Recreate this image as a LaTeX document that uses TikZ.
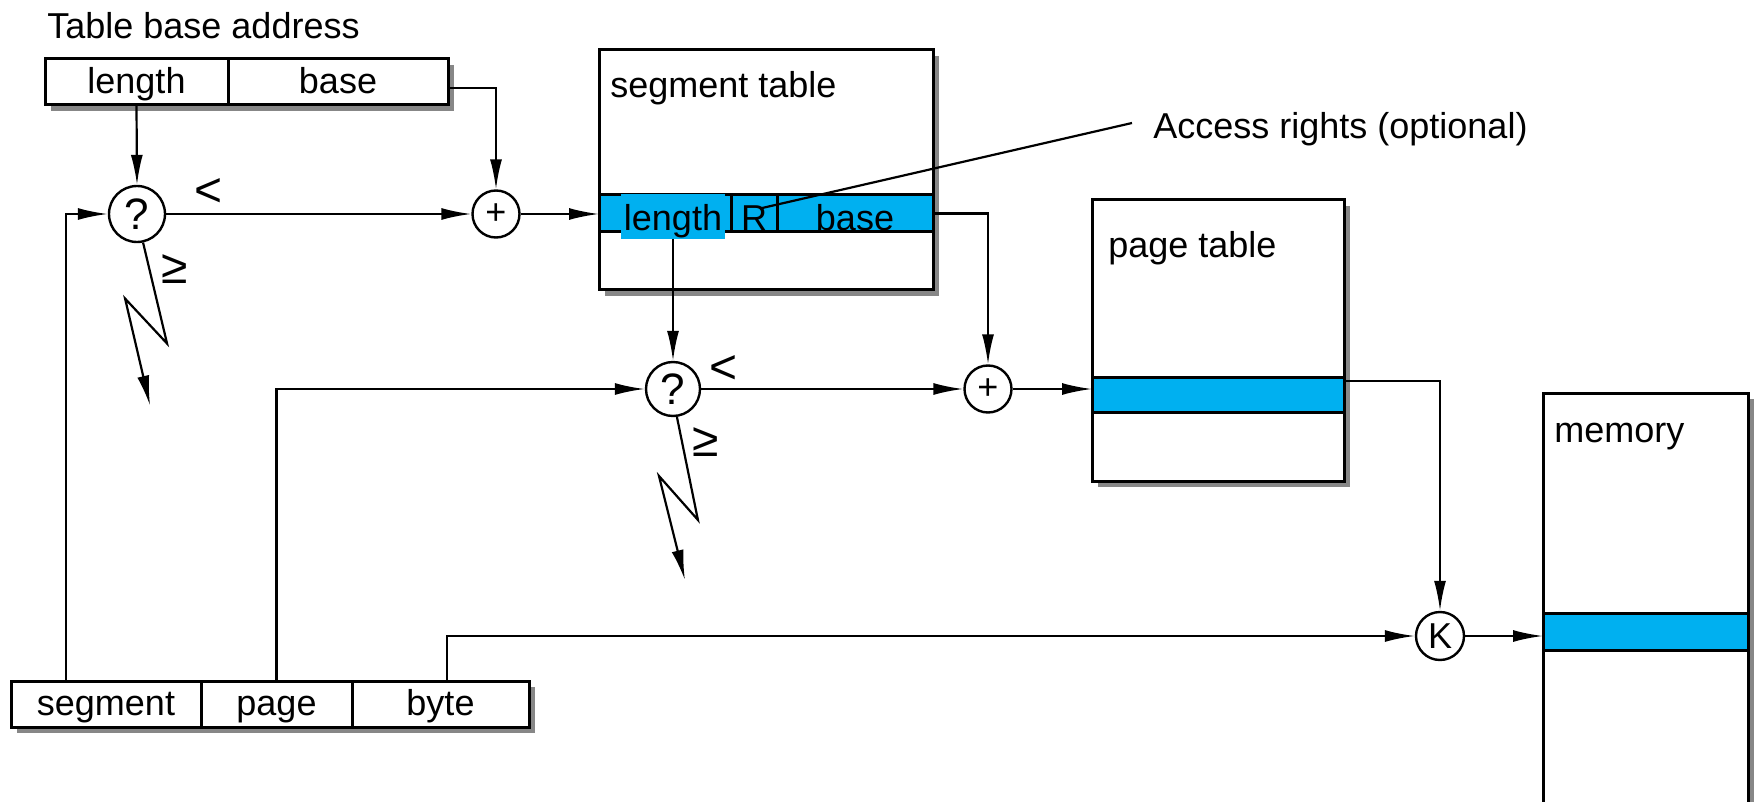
\documentclass[tikz,border=0pt]{standalone}
\usepackage{fontspec}
\setmainfont{Liberation Sans}
\usetikzlibrary{arrows.meta,positioning,calc,shadows}
\definecolor{rowblue}{HTML}{00B0F0}
\definecolor{shadowgray}{HTML}{878787}

\begin{document}
\begin{tikzpicture}[x=0.5pt,y=-0.5pt,
  every node/.style={font=\fontsize{18pt}{21pt}\selectfont},
  field/.style={draw,fill=white,line width=1.5pt,inner sep=0pt,outer sep=0pt,
    minimum height=23pt,text height=11.5pt,text depth=0pt},
  rowfield/.style={field,fill=rowblue,minimum height=18.5pt,text height=17.5pt},
  shadowed/.style={drop shadow={shadow xshift=3pt,shadow yshift=-3pt,
    fill=shadowgray,opacity=1}},
  tablebox/.style={draw,line width=1.5pt,fill=white,inner sep=0pt,
    outer sep=0pt,anchor=north west,shadowed},
  op/.style={circle,draw,line width=1.2pt,fill=white,inner sep=0pt},
  rel/.style={font=\fontsize{24pt}{26pt}\selectfont},
  arr/.style={line width=1.1pt,-{Latex[length=15pt,width=6pt]}},
  wire/.style={line width=1.1pt}]
\useasboundingbox (0,0) rectangle (1756,802);

% table base address register
\node[anchor=base west,inner sep=0pt] (tbalabel) at (47,39) {Table base address};
\node[field,shadowed,minimum width=91.5pt,anchor=north west] (len) at (45,59) {length};
\node[field,shadowed,right=0pt of len,minimum width=110pt] (base) {base};

% virtual address
\node[field,shadowed,minimum width=95pt,anchor=north west] (seg) at (11,681) {segment};
\node[field,shadowed,right=0pt of seg,minimum width=75.5pt] (pg) {page};
\node[field,shadowed,right=0pt of pg,minimum width=88.5pt] (byt) {byte};

% segment table
\node[tablebox,minimum width=167pt,minimum height=120pt] (st) at (599,50) {};
\node[anchor=base west,inner sep=0pt] at (610,98) {segment table};
\node[rowfield,minimum width=66pt,anchor=north west] (slen) at (599,195) {};
\node[rowfield,right=0pt of slen,minimum width=23pt] (sr) {R};
\node[rowfield,right=0pt of sr,minimum width=78pt] (sbase) {base};
\node[fill=rowblue,inner sep=0pt,minimum width=52pt,minimum height=22.5pt,
  text height=14.5pt,text depth=0pt] (hl) at (673,216.5) {length};

% page table
\node[tablebox,minimum width=126pt,minimum height=140.5pt] (pt) at (1092,200) {};
\node[anchor=base west,inner sep=0pt] at (1108,257) {page table};
\node[rowfield,minimum width=126pt,minimum height=14.5pt,anchor=north west] (prow) at (1092,377) {};

% memory
\node[tablebox,minimum width=102.5pt,minimum height=215pt] (mem) at (1543,393) {};
\node[anchor=base west,inner sep=0pt] at (1554,442) {memory};
\node[rowfield,minimum width=102.5pt,anchor=north west] (mrow) at (1543,613) {};

% operators
\node[op,minimum size=28pt,font=\fontsize{22pt}{24pt}\selectfont] (q1) at (137,214) {?};
\node[op,minimum size=23.5pt] (p1) at (496,214) {\raisebox{-2.75pt}{+}};
\node[op,minimum size=27pt,font=\fontsize{22pt}{24pt}\selectfont] (q2) at (673,389) {?};
\node[op,minimum size=23.5pt] (p2) at (988,389) {\raisebox{-2.75pt}{+}};
\node[op,minimum size=24pt] (K) at (1440,636) {K};

\node[rel] at (209,193) {<};
\node[rel] at (175,269) {≥};
\node[rel] at (724,370) {<};
\node[rel] at (706,442) {≥};

% connections
\draw[arr] (len.south) -- (q1.north);
\draw[arr] ([yshift=-3pt]base.east) -| (p1.north);
\draw[arr] ($(seg.north west)+(55,0)$) |- (q1.west);
\draw[arr] (q1.east) -- (p1.west);
\draw[arr] (p1.east) -- (p1.east -| st.west);
\draw[arr] (hl.south) -- (q2.north);
\draw[arr] (sbase.east) -| (p2.north);
\draw[arr] (pg.north) |- (q2.west);
\draw[arr] (q2.east) -- (p2.west);
\draw[arr] (p2.east) -- (p2.east -| pt.west);
\draw[arr] ([yshift=-2pt]prow.north east) -| (K.north);
\draw[arr] ([xshift=3.25pt]byt.north) |- (K.west);
\draw[arr] (K.east) -- (K.east -| mem.west);

% faults
\draw[arr] (q1.-78) -- ++(24,101) -- ++(-42,-45) -- ++(25,107);
\draw[arr] (q2.-82) -- ++(21,103) -- ++(-39,-44) -- ++(26,104);

% access rights
\coordinate (accend) at (1132,123);
\node[anchor=base west,inner sep=0pt] (acc) at (1153,139) {Access rights (optional)};
\draw[wire] ($(sr.center)+(6,-5)$) -- (accend);
\end{tikzpicture}
\end{document}
